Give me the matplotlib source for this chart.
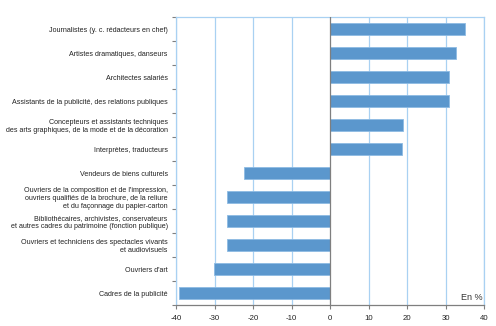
import matplotlib
matplotlib.use("Agg")
import matplotlib.pyplot as plt
import numpy as np

categories = [
    "Journalistes (y. c. rédacteurs en chef)",
    "Artistes dramatiques, danseurs",
    "Architectes salariés",
    "Assistants de la publicité, des relations publiques",
    "Concepteurs et assistants techniques\ndes arts graphiques, de la mode et de la décoration",
    "Interprètes, traducteurs",
    "Vendeurs de biens culturels",
    "Ouvriers de la composition et de l'impression,\nouvriers qualifiés de la brochure, de la reliure\net du façonnage du papier-carton",
    "Bibliothécaires, archivistes, conservateurs\net autres cadres du patrimoine (fonction publique)",
    "Ouvriers et techniciens des spectacles vivants\net audiovisuels",
    "Ouvriers d'art",
    "Cadres de la publicité",
]
values = [35.1, 32.7, 30.9, 30.8, 19.0, 18.8, -22.4, -26.8, -26.8, -26.8, -30.1, -39.3]
xticks = [-40, -30, -20, -10, 0, 10, 20, 30, 40]

plt.rcParams['font.family'] = ['Liberation Sans', 'DejaVu Sans']

fig = plt.figure(figsize=(4.96, 3.26), dpi=100)
ax = fig.add_axes([176/496, 21/326, 308/496, 288/326])

n = len(categories)
y = np.arange(n)
ax.barh(y, values, height=0.5, color="#5b97cd", edgecolor="#8dbbe3", linewidth=0.6, zorder=3)

ax.set_xlim(-40, 40)
ax.set_ylim(n - 0.5, -0.5)

grid_c = "#a9d1f2"
for xv in xticks:
    if xv == 0:
        ax.axvline(0, color="#7f7f7f", linewidth=0.9, zorder=4)
    else:
        ax.axvline(xv, color=grid_c, linewidth=0.9, zorder=1)

for side in ["top", "right", "left"]:
    ax.spines[side].set_color(grid_c)
    ax.spines[side].set_linewidth(0.9)
ax.spines["bottom"].set_color("#7f7f7f")
ax.spines["bottom"].set_linewidth(0.9)

ax.set_xticks(xticks)
ax.set_xticklabels([str(v) for v in xticks], fontsize=5.6, color="#222222")
ax.tick_params(axis="x", length=3, width=0.8, color="#7f7f7f", pad=4)

ax.set_yticks(y)
ax.set_yticklabels(categories, fontsize=5.1, linespacing=1.2, color="#222222")
ax.tick_params(axis="y", length=0, pad=6)
ax.set_yticks(np.arange(n + 1) - 0.5, minor=True)
ax.tick_params(axis="y", which="minor", length=3, width=0.8, color="#7f7f7f")

ax.text(0.995, 0.012, "En %", transform=ax.transAxes, ha="right", va="bottom", fontsize=6.5, color="#333333")

fig.savefig("out.png", dpi=100)
